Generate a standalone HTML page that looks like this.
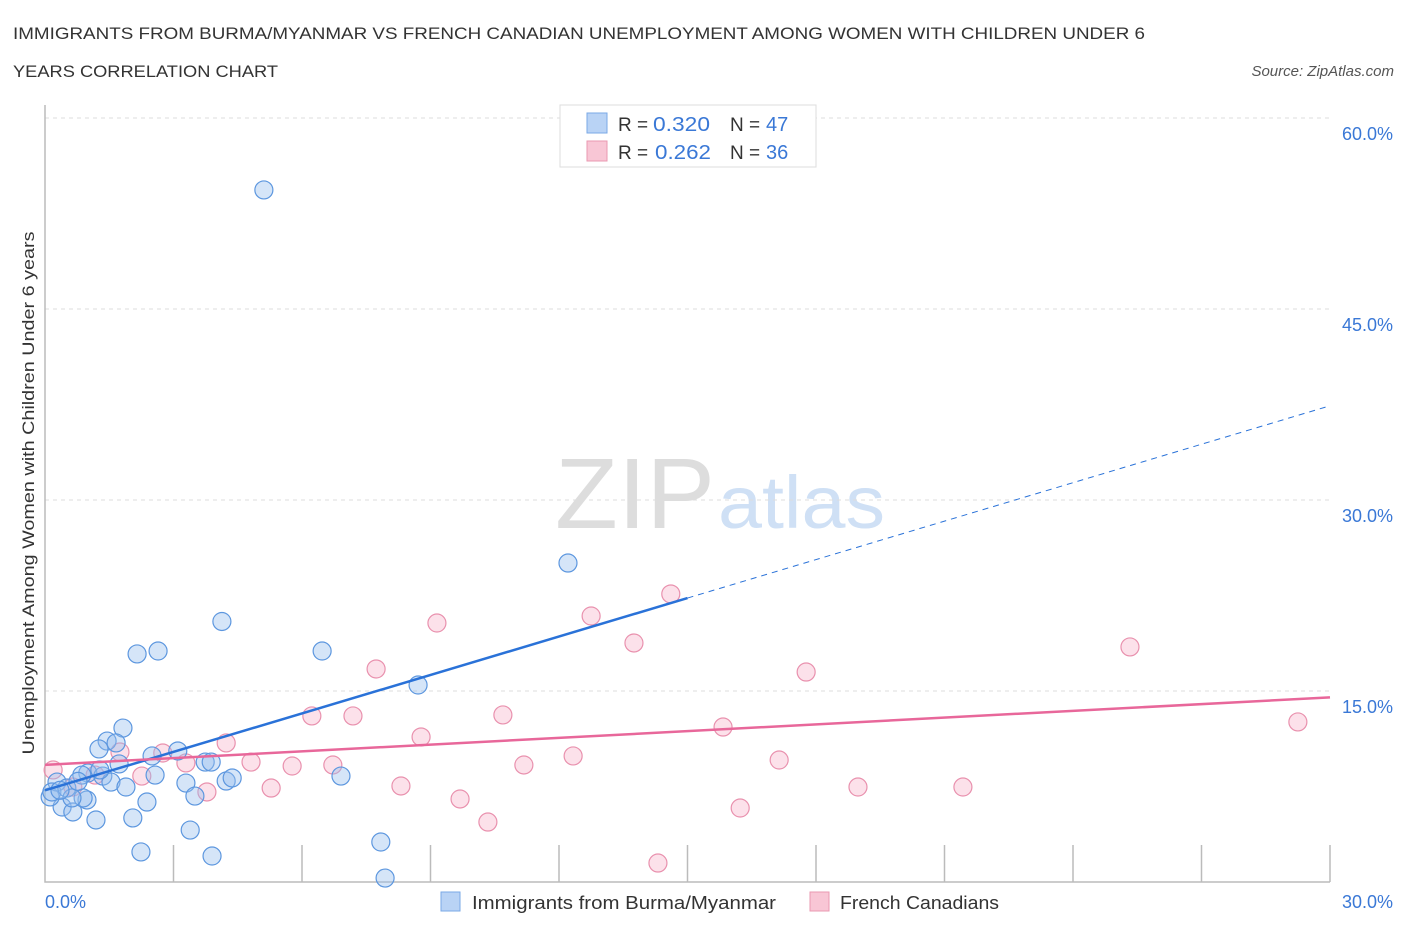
<!DOCTYPE html>
<html><head><meta charset="utf-8"><style>
body{margin:0;background:#fff;font-family:"Liberation Sans",sans-serif;}
svg text{font-family:"Liberation Sans",sans-serif;}
</style></head><body>
<svg id="c" width="1406" height="930" xmlns="http://www.w3.org/2000/svg">
<text x="13" y="39" font-size="17" fill="#333" textLength="1132" lengthAdjust="spacingAndGlyphs">IMMIGRANTS FROM BURMA/MYANMAR VS FRENCH CANADIAN UNEMPLOYMENT AMONG WOMEN WITH CHILDREN UNDER 6</text>
<text x="13" y="77" font-size="17" fill="#333" textLength="265" lengthAdjust="spacingAndGlyphs">YEARS CORRELATION CHART</text>
<text x="1394" y="76" font-size="15" fill="#555" font-style="italic" text-anchor="end">Source: ZipAtlas.com</text>
<g>
<text x="555" y="528" font-size="100" fill="#ddd" font-family="Liberation Serif" textLength="160" lengthAdjust="spacingAndGlyphs">ZIP</text>
<text x="718" y="528" font-size="74" fill="#cfe0f5" textLength="167" lengthAdjust="spacingAndGlyphs">atlas</text>
</g>
<g id="grid"></g>
<g id="axes"></g>
<g id="pts"></g>
<g id="lines"></g>
<text x="34" y="493" font-size="17" fill="#333" text-anchor="middle" textLength="523" lengthAdjust="spacingAndGlyphs" transform="rotate(-90 34 493)">Unemployment Among Women with Children Under 6 years</text>
<g>
<rect x="560" y="105" width="256" height="62" fill="#fff" stroke="#ddd"/>
<rect x="587" y="113" width="20" height="20" fill="#b9d3f5" stroke="#7aa8e6"/>
<rect x="587" y="141" width="20" height="20" fill="#f8c6d5" stroke="#ea98b1"/>
<text x="618" y="131" font-size="19" fill="#333">R =</text>
<text x="653" y="131" font-size="20" fill="#3a78d6" textLength="57" lengthAdjust="spacingAndGlyphs">0.320</text>
<text x="730" y="131" font-size="19" fill="#333">N =</text>
<text x="766" y="131" font-size="20" fill="#3a78d6">47</text>
<text x="618" y="159" font-size="19" fill="#333">R =</text>
<text x="655" y="159" font-size="20" fill="#3a78d6" textLength="56" lengthAdjust="spacingAndGlyphs">0.262</text>
<text x="730" y="159" font-size="19" fill="#333">N =</text>
<text x="766" y="159" font-size="20" fill="#3a78d6">36</text>
</g>
<g>
<rect x="441" y="892" width="19" height="19" fill="#b9d3f5" stroke="#7aa8e6"/>
<text x="472" y="909" font-size="18" fill="#333" textLength="304" lengthAdjust="spacingAndGlyphs">Immigrants from Burma/Myanmar</text>
<rect x="810" y="892" width="19" height="19" fill="#f8c6d5" stroke="#ea98b1"/>
<text x="840" y="909" font-size="18" fill="#333" textLength="159" lengthAdjust="spacingAndGlyphs">French Canadians</text>
</g>
</svg>
<script>
const yTicks=[15,30,45,60];
const yTickLabels=["15.0%","30.0%","45.0%","60.0%"];
const xTickLabels=["0.0%","30.0%"];
const blueX=[5.11,12.21,4.13,2.15,2.64,6.47,8.71,1.82,1.45,1.26,1.66,3.10,2.50,3.74,3.88,1.73,1.00,1.35,2.57,1.54,1.89,3.29,4.23,4.37,6.91,3.50,2.38,0.98,0.40,0.65,1.19,2.05,3.39,2.24,3.90,7.84,7.94,0.12,0.28,0.16,0.51,0.89,0.86,0.63,1.28,0.35,0.77];
const blueY=[54.35,25.05,20.46,17.91,18.14,18.14,15.47,12.09,11.07,10.45,10.92,10.29,9.90,9.42,9.42,9.27,8.56,8.32,8.40,7.85,7.46,7.77,7.93,8.17,8.32,6.75,6.28,6.44,5.89,5.50,4.87,5.03,4.08,2.36,2.04,3.14,0.31,6.68,7.85,7.07,7.38,6.60,8.40,6.60,8.80,7.2,7.9];
const pinkX=[14.61,12.75,9.15,13.75,25.33,7.73,17.77,6.23,7.19,10.69,8.78,15.83,29.25,4.23,1.75,2.75,3.29,4.81,5.77,6.72,11.18,12.33,17.14,2.26,1.17,3.78,5.28,8.31,9.69,18.98,21.43,16.23,10.34,14.31,0.19,0.65];
const pinkY=[22.62,20.89,20.34,18.77,18.46,16.73,16.49,13.04,13.04,13.12,11.39,12.17,12.57,10.92,10.21,10.13,9.35,9.42,9.11,9.19,9.19,9.90,9.58,8.32,8.40,7.07,7.38,7.54,6.52,7.46,7.46,5.81,4.71,1.49,8.80,7.46];
const blueTrend=[7.2,37.4];
const pinkTrend=[9.2,14.5];
const NS="http://www.w3.org/2000/svg";
const X=v=>45+v/30*1285, Y=v=>882-v/15*191;
function mk(t,a,p){const e=document.createElementNS(NS,t);for(const k in a)e.setAttribute(k,a[k]);p.appendChild(e);return e;}
const grid=document.getElementById('grid'),axes=document.getElementById('axes'),pts=document.getElementById('pts'),lines=document.getElementById('lines');
yTicks.forEach((t,i)=>{
 const l=mk('line',{x1:45,x2:1330,y1:Y(t),y2:Y(t),stroke:'#ddd','stroke-dasharray':'4,4'},grid);
 
 
 const tx=mk('text',{x:1393,y:Y(t)+22,'font-size':18,fill:'#3a78d6','text-anchor':'end'},axes);
 tx.textContent=yTickLabels[i];
 
 
});
const ax=mk('path',{d:'M45 105V882H1330',fill:'none',stroke:'#bbb','stroke-width':1.5},axes);


for(let i=1;i<=10;i++){
 const tk=mk('line',{x1:X(i*3),x2:X(i*3),y1:845,y2:882,stroke:'#bbb','stroke-width':1.5},axes);
 
 
}
const xl0=mk('text',{x:45,y:908,'font-size':18,fill:'#3a78d6'},axes);xl0.textContent=xTickLabels[0];


const xl1=mk('text',{x:1393,y:908,'font-size':18,fill:'#3a78d6','text-anchor':'end'},axes);xl1.textContent=xTickLabels[1];


pinkX.forEach((v,i)=>{
 const c=mk('circle',{cx:X(v),cy:Y(pinkY[i]),r:9,fill:'rgba(245,168,195,0.35)',stroke:'#e991ae','stroke-width':1.2},pts);
 
 
});
blueX.forEach((v,i)=>{
 const c=mk('circle',{cx:X(v),cy:Y(blueY[i]),r:9,fill:'rgba(150,190,238,0.4)',stroke:'#5d97df','stroke-width':1.2},pts);
 
 
});
const bmid=blueTrend[0]+(blueTrend[1]-blueTrend[0])*15/30;
const b1=mk('line',{x1:X(0),y1:Y(blueTrend[0]),x2:X(15),y2:Y(bmid),stroke:'#2a72d8','stroke-width':2.5},lines);


const b2=mk('line',{x1:X(15),y1:Y(bmid),x2:X(29.9),y2:Y(blueTrend[0]+(blueTrend[1]-blueTrend[0])*29.9/30),stroke:'#2a72d8','stroke-width':1,'stroke-dasharray':'6,5'},lines);


const p1=mk('line',{x1:X(0),y1:Y(pinkTrend[0]),x2:X(30),y2:Y(pinkTrend[1]),stroke:'#e8679a','stroke-width':2.5},lines);


</script>
</body></html>
